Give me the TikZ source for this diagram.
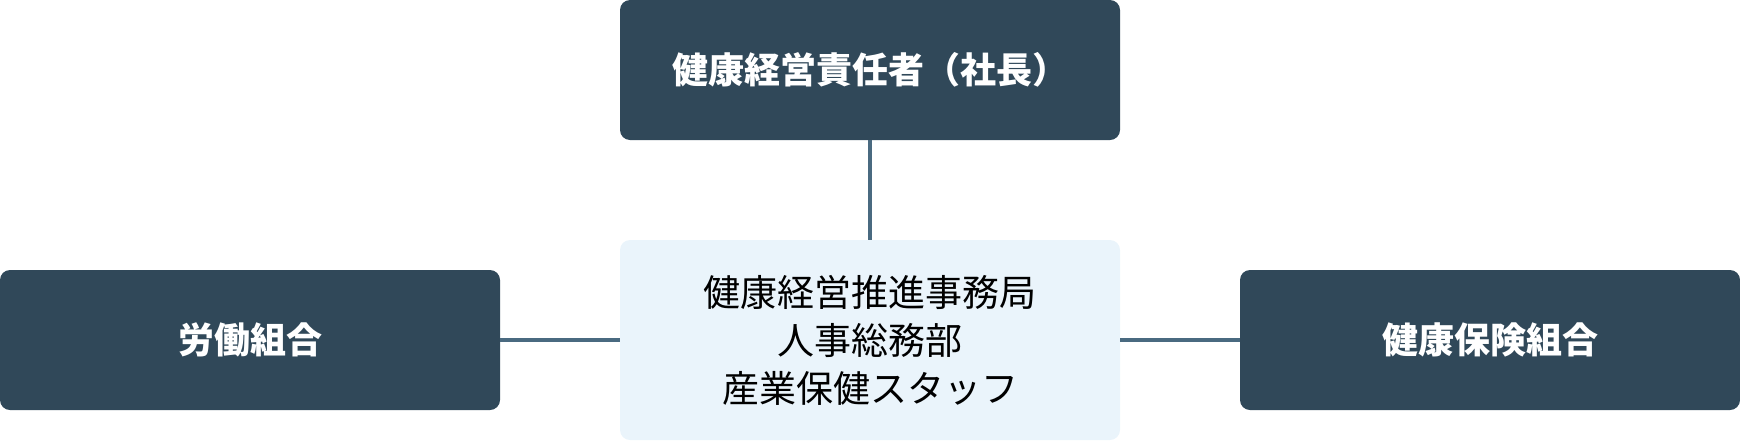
\documentclass[tikz,border=0pt]{standalone}
\usepackage{fontspec}
\setmainfont{Noto Sans CJK JP}
\definecolor{darkbox}{HTML}{304859}
\definecolor{lightbox}{HTML}{EAF4FB}
\definecolor{linecol}{HTML}{4A6A80}
\begin{document}
\begin{tikzpicture}[x=1pt,y=-1pt,
  darknode/.style={fill=darkbox,rounded corners=10pt,minimum width=500pt,minimum height=140pt,text=white,font=\fontsize{36}{48}\selectfont\bfseries,inner sep=0pt},
  lightnode/.style={fill=lightbox,rounded corners=10pt,minimum width=500pt,minimum height=200pt,text=black,font=\fontsize{37}{48}\selectfont,align=center,inner sep=0pt},
  conn/.style={draw=linecol,line width=3.5pt}]
\useasboundingbox (0,0) rectangle (1740,440);
\node[darknode] (top) at (870,70) {健康経営責任者（社長）};
\node[lightnode] (mid) at (870,340) {健康経営推進事務局\\人事総務部\\産業保健スタッフ};
\node[darknode] (left) at (250,340) {労働組合};
\node[darknode] (right) at (1490,340) {健康保険組合};
\draw[conn] (top.south) -- (mid.north);
\draw[conn] (left.east) -- (mid.west);
\draw[conn] (mid.east) -- (right.west);
\end{tikzpicture}
\end{document}
